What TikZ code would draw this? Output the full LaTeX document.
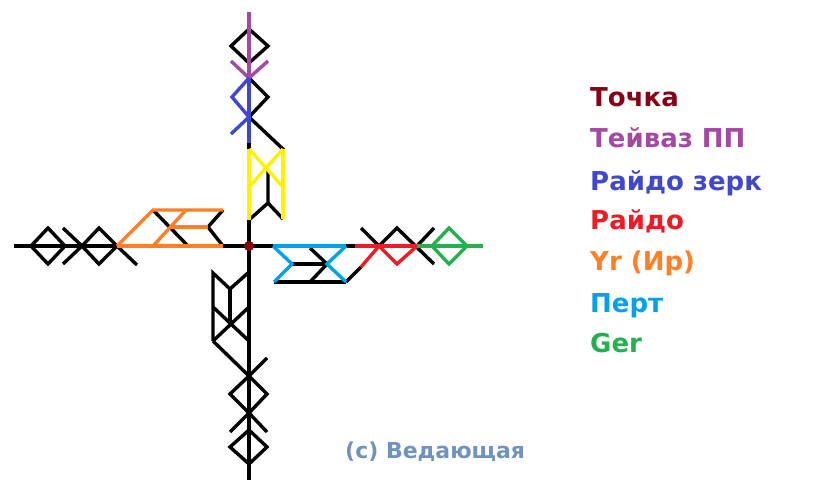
\documentclass[tikz,border=0pt]{standalone}
\usepackage{fontspec}
\setmainfont{DejaVu Sans}
\definecolor{tochka}{RGB}{136,0,21}
\definecolor{teiv}{RGB}{163,73,164}
\definecolor{raidz}{RGB}{63,72,204}
\definecolor{raid}{RGB}{237,28,36}
\definecolor{ur}{RGB}{255,127,39}
\definecolor{pert}{RGB}{0,162,232}
\definecolor{ger}{RGB}{34,177,76}
\definecolor{yel}{RGB}{255,242,0}
\definecolor{copyc}{RGB}{112,146,190}
\begin{document}
\begin{tikzpicture}[x=1pt,y=-1pt,
  rune/.style={line width=3.4pt, line join=miter},
  lg/.style={anchor=base west, inner sep=0pt, font=\bfseries\fontsize{26}{30}\selectfont}]
\useasboundingbox (0,0) rectangle (840,494);
% ---- black axes
\draw[rune] (249,12) -- (249,480);
\draw[rune] (14,246) -- (483,246);
% ---- top
\draw[rune] (249,29) -- (268,46) -- (249,63) -- (231,46) -- cycle;
\draw[rune] (249,78) -- (268,97) -- (249,117) -- (284,150);
\draw[rune] (268,170) -- (268,203) -- (249,220);
\draw[rune] (268,203) -- (283,219);
% ---- left
\draw[rune] (31,246) -- (48,228) -- (65,246) -- (48,264) -- cycle;
\draw[rune] (63,228) -- (82,246) -- (63,264);
\draw[rune] (82,246) -- (99,228) -- (117,246) -- (99,264) -- cycle;
\draw[rune] (117,246) -- (137,265);
\draw[rune] (153,210) -- (188,246);
\draw[rune] (223,210) -- (208,227) -- (223,246);
% ---- right
\draw[rune] (292,264) -- (327,264);
\draw[rune] (274,282) -- (346,282);
\draw[rune] (310,248) -- (327,264) -- (310,282);
\draw[rune] (346,282) -- (361,267);
\draw[rune] (361,228) -- (379,246) -- (397,228) -- (434,264);
\draw[rune] (417,246) -- (434,228);
% ---- bottom
\draw[rune] (213,341) -- (213,273) -- (230,289) -- (249,272);
\draw[rune] (230,289) -- (230,323);
\draw[rune] (213,307) -- (249,341);
\draw[rune] (213,341) -- (249,307);
\draw[rune] (213,341) -- (249,376);
\draw[rune] (267,358) -- (249,376);
\draw[rune] (249,376) -- (267,394) -- (249,413) -- (230,394) -- cycle;
\draw[rune] (230,432) -- (249,413) -- (267,432);
\draw[rune] (249,430) -- (267,447) -- (249,464) -- (230,447) -- cycle;
% ---- coloured runes
\draw[rune,teiv] (249,12) -- (249,78);
\draw[rune,teiv] (231,61) -- (249,78) -- (268,61);
\draw[rune,raidz] (249,78) -- (249,143);
\draw[rune,raidz] (249,78) -- (232,97) -- (249,117) -- (231,134);
\draw[rune,yel] (249,149) -- (249,220);
\draw[rune,yel] (283,149) -- (283,219);
\draw[rune,yel] (249,149) -- (283,187);
\draw[rune,yel] (283,149) -- (249,187);
\draw[rune,ur] (117,246) -- (153,210) -- (223,210);
\draw[rune,ur] (117,246) -- (223,246);
\draw[rune,ur] (170,227) -- (208,227);
\draw[rune,ur] (153,246) -- (186,210);
\draw[rune,pert] (273,246) -- (346,246);
\draw[rune,pert] (273,246) -- (292,264) -- (274,282);
\draw[rune,pert] (346,246) -- (327,264) -- (346,282);
\draw[rune,raid] (355,246) -- (417,246);
\draw[rune,raid] (361,267) -- (379,246) -- (397,264) -- (417,246);
\draw[rune,ger] (417,246) -- (483,246);
\draw[rune,ger] (432,246) -- (449,228) -- (467,246) -- (449,264) -- cycle;
\fill[tochka] (249,246) circle (5);
% ---- legend
\node[lg,text=tochka] (l1) at (590,107) {Точка};
\node[lg,text=teiv]   (l2) at (590,148) {Тейваз ПП};
\node[lg,text=raidz]  (l3) at (590,191) {Райдо зерк};
\node[lg,text=raid]   (l4) at (590,230) {Райдо};
\node[lg,text=ur]     (l5) at (590,270) {Yr (Ир)};
\node[lg,text=pert]   (l6) at (590,312) {Перт};
\node[lg,text=ger]    (l7) at (590,352) {Ger};
\node[anchor=base west, inner sep=0pt, text=copyc, font=\bfseries\fontsize{22}{26}\selectfont] (cp) at (345,458) {(c) Ведающая};
\end{tikzpicture}
\end{document}
